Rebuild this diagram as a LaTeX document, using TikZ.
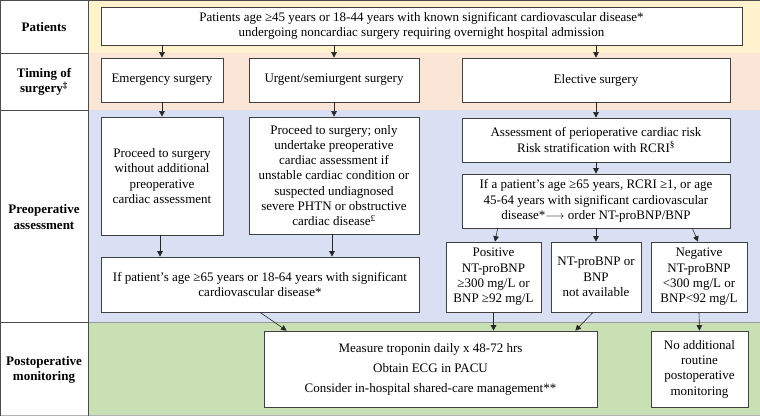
\documentclass[tikz,border=0pt]{standalone}
\usepackage{fontspec}
\setmainfont{Liberation Serif}
\usetikzlibrary{arrows.meta,calc}
\definecolor{cyel}{HTML}{FFF2CC}
\definecolor{cpea}{HTML}{FBE5D6}
\definecolor{clav}{HTML}{DAE0F3}
\definecolor{cgrn}{HTML}{C8E0B4}
\definecolor{cbord}{HTML}{404040}
\begin{document}
\begin{tikzpicture}[x=1pt,y=-1pt,
  box/.style={draw=cbord, fill=white, line width=0.7pt, align=center, inner sep=0pt,
    font=\fontsize{13}{15.3}\selectfont},
  lab/.style={align=center, font=\fontsize{13}{15.5}\selectfont\bfseries},
  arr/.style={draw=black!85, line width=0.6pt, -{Triangle[length=5.5pt,width=5.5pt]}},
  sep/.style={draw=black!70, line width=0.8pt}]
\useasboundingbox (0,0) rectangle (760,417);
% backgrounds
\fill[cyel] (88,0) rectangle (760,53);
\fill[cpea] (88,53) rectangle (760,110);
\fill[clav] (88,110) rectangle (760,322);
\fill[cgrn] (88,322) rectangle (760,416);
\draw[draw=black!40, line width=0.6pt] (88,322) -- (760,322);
\draw[draw=black!30, line width=0.8pt] (0,415.5) -- (760,415.5);
% frame
\draw[sep] (0,0.5) -- (760,0.5);
\draw[sep] (0.5,0) -- (0.5,416);
\draw[sep] (88,0) -- (88,416);
\draw[sep] (0,53) -- (88,53);
\draw[sep] (0,110) -- (88,110);
\draw[sep] (0,322) -- (88,322);
% left labels
\node[lab] (lpat) at (44,27) {Patients};
\node[lab] (ltim) at (44,82) {Timing of\\surgery\textsuperscript{‡}};
\node[lab] (lpre) at (44,217) {Preoperative\\assessment};
\node[lab] (lpost) at (44,370) {Postoperative\\monitoring};
% boxes
\node[box, minimum width=641pt, minimum height=38pt] (pat) at (421.5,26)
  {Patients age ≥45 years or 18-44 years with known significant cardiovascular disease*\\
   undergoing noncardiac surgery requiring overnight hospital admission};
\node[box, minimum width=122pt, minimum height=44pt] (emer) at (162,80) {Emergency surgery};
\node[box, minimum width=170pt, minimum height=44pt] (urg) at (334,80) {Urgent/semiurgent surgery};
\node[box, minimum width=268pt, minimum height=44pt] (elec) at (596,80) {Elective surgery};
\node[box, minimum width=122pt, minimum height=118pt] (proc1) at (162,176)
  {Proceed to surgery\\without additional\\preoperative\\cardiac assessment};
\node[box, minimum width=170pt, minimum height=117pt] (proc2) at (334,175.5)
  {Proceed to surgery; only\\undertake preoperative\\cardiac assessment if\\unstable cardiac condition or\\suspected undiagnosed\\severe PHTN or obstructive\\cardiac disease\textsuperscript{£}};
\node[box, minimum width=318pt, minimum height=55pt] (ifpat) at (260,284.5)
  {If patient’s age ≥65 years or 18-64 years with significant\\cardiovascular disease*};
\node[box, minimum width=268pt, minimum height=44pt] (assess) at (596,140)
  {Assessment of perioperative cardiac risk\\Risk stratification with RCRI\textsuperscript{§}};
\node[box, minimum width=268pt, minimum height=54pt] (ifage) at (596,201)
  {If a patient’s age ≥65 years, RCRI ≥1, or age\\45-64 years with significant cardiovascular\\disease*$\longrightarrow$ order NT-proBNP/BNP};
\node[box, minimum width=95pt, minimum height=70pt] (pos) at (493.5,277)
  {Positive\\NT-proBNP\\≥300 mg/L or\\BNP ≥92 mg/L};
\node[box, minimum width=90pt, minimum height=70pt] (na) at (596,277)
  {NT-proBNP or\\BNP\\not available};
\node[box, minimum width=96pt, minimum height=70pt] (neg) at (699,277)
  {Negative\\NT-proBNP\\<300 mg/L or\\BNP<92 mg/L};
\node[box, minimum width=333pt, minimum height=76pt, font=\fontsize{13}{20}\selectfont] (meas) at (430.5,369)
  {Measure troponin daily x 48-72 hrs\\Obtain ECG in PACU\\Consider in-hospital shared-care management**};
\node[box, minimum width=97pt, minimum height=76pt] (noadd) at (699.5,369)
  {No additional\\routine\\postoperative\\monitoring};
% arrows
\draw[arr] (emer.north |- pat.south) -- (emer.north);
\draw[arr] (urg.north |- pat.south) -- (urg.north);
\draw[arr] (elec.north |- pat.south) -- (elec.north);
\draw[arr] (emer.south) -- (proc1.north);
\draw[arr] (urg.south) -- (proc2.north);
\draw[arr] (elec.south) -- (assess.north);
\draw[arr] (assess.south) -- (ifage.north);
\draw[arr] ($(proc1.south)+(-2,0)$) -- ($(proc1.south |- ifpat.north)+(-2,0)$);
\draw[arr] ($(proc2.south)+(-2,0)$) -- ($(proc2.south |- ifpat.north)+(-2,0)$);
\draw[arr] ($(ifage.south west)+(36,0)$) -- ($(pos.north)+(1.5,0)$);
\draw[arr] (ifage.south) -- (na.north);
\draw[arr] ($(ifage.south east)+(-38,0)$) -- ($(neg.north)+(-1,0)$);
\draw[arr] (ifpat.south) -- ($(meas.north west)+(23,0)$);
\draw[arr] (pos.south) -- (pos.south |- meas.north);
\draw[arr] ($(na.south)+(-3,0)$) -- ($(meas.north east)+(-22,0)$);
\draw[arr] (neg.south) -- (noadd.north);
\end{tikzpicture}
\end{document}
